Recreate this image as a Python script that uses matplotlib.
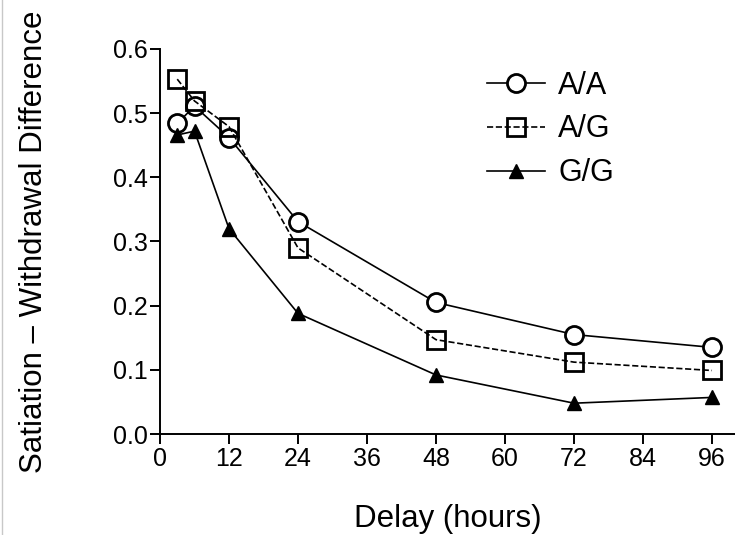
import numpy as np
import matplotlib
matplotlib.use('Agg')
import matplotlib.pyplot as plt
from matplotlib.lines import Line2D

plt.rcParams['font.family'] = ['Liberation Sans', 'DejaVu Sans']

#%% Data
delay = [3, 6, 12, 24, 48, 72, 96]
aa = [0.484, 0.511, 0.462, 0.331, 0.205, 0.155, 0.135]
ag = [0.553, 0.519, 0.479, 0.290, 0.147, 0.112, 0.099]
gg = [0.466, 0.472, 0.320, 0.188, 0.092, 0.048, 0.057]
x_ticks = [0, 12, 24, 36, 48, 60, 72, 84, 96]
y_ticks = [0.0, 0.1, 0.2, 0.3, 0.4, 0.5, 0.6]

#%% Plot
fig = plt.figure(figsize=(7.35, 5.35), dpi=100)
ax = fig.add_axes([160/735, 1 - 434/535, 1 - 160/735, (434 - 49)/535])

ax.plot(delay, aa, '-', color='black', lw=1.2, marker='o', ms=13,
        mfc='white', mec='black', mew=2.0, label='A/A', zorder=3)
ax.plot(delay, ag, '--', color='black', lw=1.2, marker='s', ms=13,
        mfc='none', mec='black', mew=2.0, label='A/G', zorder=3)
ax.plot(delay, gg, '-', color='black', lw=1.2, marker='^', ms=10,
        mfc='black', mec='black', label='G/G', zorder=3)

ax.set_xlim(0, 100)
ax.set_ylim(0, 0.6)
ax.set_xticks(x_ticks)
ax.set_yticks(y_ticks)
ax.yaxis.set_major_formatter(matplotlib.ticker.FormatStrFormatter('%.1f'))
ax.spines['top'].set_visible(False)
ax.spines['right'].set_visible(False)
for s in ['left', 'bottom']:
    ax.spines[s].set_linewidth(1.4)
ax.tick_params(direction='out', length=7, width=1.4, labelsize=18, pad=2)

ax.set_xlabel('Delay (hours)', fontsize=22.5, labelpad=24)
ax.set_ylabel('Satiation \u2013 Withdrawal Difference', fontsize=22.5, labelpad=46)

leg = ax.legend(loc='upper left', bbox_to_anchor=(0.52, 1.015), frameon=False,
                fontsize=22, handlelength=1.9, labelspacing=0.45, handletextpad=0.45)

fig.add_artist(Line2D([2/735, 2/735], [0, 1], color='#c8c8c8', lw=1))

fig.savefig('out.png', dpi=100)
